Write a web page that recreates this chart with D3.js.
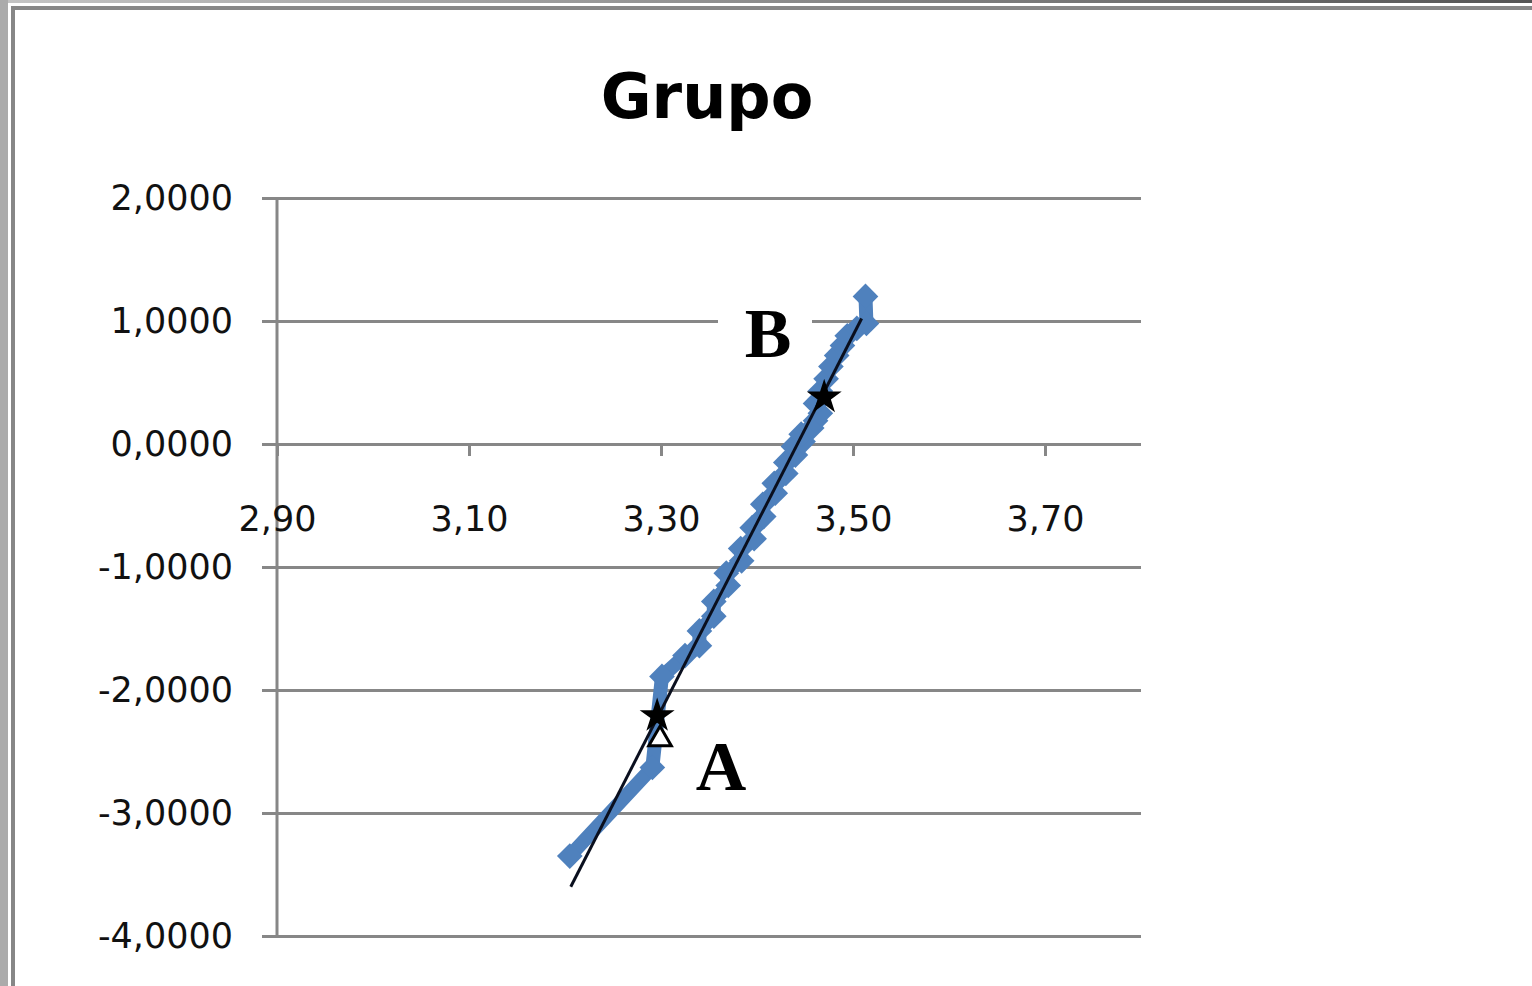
<!DOCTYPE html>
<html>
<head>
<meta charset="utf-8">
<script src="https://cdn.jsdelivr.net/npm/d3@7"></script>
<style>
  html, body { margin: 0; padding: 0; background: #fff; }
  svg { display: block; }
</style>
</head>
<body>
<svg id="chart" width="1532" height="986"></svg>
<script>
// Sample values (x) and their normal scores (y), sorted ascending
const sampleX = [3.205, 3.291, 3.301, 3.325, 3.340, 3.340, 3.355, 3.355, 3.370, 3.368,
                 3.384, 3.383, 3.397, 3.395, 3.407, 3.406, 3.419, 3.418, 3.430, 3.430,
                 3.440, 3.438, 3.448, 3.446, 3.457, 3.461, 3.466, 3.461, 3.466, 3.472,
                 3.477, 3.483, 3.489, 3.494, 3.504, 3.514, 3.513];
const normalY = [-3.35, -2.63, -1.89, -1.72, -1.64, -1.52, -1.40, -1.28, -1.15, -1.05,
                 -0.95, -0.85, -0.77, -0.68, -0.59, -0.49, -0.40, -0.32, -0.24, -0.15,
                 -0.09, -0.02, 0.02, 0.08, 0.13, 0.19, 0.25, 0.33, 0.43, 0.53,
                 0.63, 0.72, 0.80, 0.88, 0.94, 0.98, 1.20];

// Fitted straight line (two end points)
const trendX = [3.206, 3.509];
const trendY = [-3.60, 1.02];

// Highlighted points A and B
const markLabels = ["A", "B"];
const markX = [3.296, 3.470];
const markY = [-2.21, 0.38];
const hollowX = [3.299];
const hollowY = [-2.40];

// Axis ticks
const xTicks = [2.90, 3.10, 3.30, 3.50, 3.70];
const yTicks = [-4, -3, -2, -1, 0, 1, 2];

const svg = d3.select("#chart");
const W = 1532, H = 986;

// Window frame
svg.append("rect").attr("x", 0).attr("y", 0).attr("width", W).attr("height", H).attr("fill", "#fff");
const topGrad = svg.append("defs").append("linearGradient").attr("id", "topGrad");
topGrad.append("stop").attr("offset", "0%").attr("stop-color", "#c4c4c4");
topGrad.append("stop").attr("offset", "100%").attr("stop-color", "#555");
svg.append("rect").attr("x", 0).attr("y", 0).attr("width", W).attr("height", 3).attr("fill", "url(#topGrad)");
svg.append("rect").attr("x", 0).attr("y", 0).attr("width", 8).attr("height", H).attr("fill", "#ababab");
svg.append("rect").attr("x", 11).attr("y", 6).attr("width", W - 11).attr("height", 4).attr("fill", "#878787");
svg.append("rect").attr("x", 11).attr("y", 6).attr("width", 4).attr("height", H - 6).attr("fill", "#878787");

const locale = d3.formatLocale({decimal: ",", thousands: ".", grouping: [3], currency: ["", ""], minus: "-"});
const fmtY = locale.format(".4f");
const fmtX = locale.format(".2f");

const x = d3.scaleLinear().domain([2.9, 3.8]).range([277, 1141]);
const y = d3.scaleLinear().domain([-4, 2]).range([936, 198]);

const labelFont = "'DejaVu Sans', Verdana, sans-serif";
const gridColor = "#878787";

// Title
svg.append("text")
  .attr("x", 707).attr("y", 118)
  .attr("text-anchor", "middle")
  .attr("font-family", labelFont)
  .attr("font-weight", "bold")
  .attr("font-size", 62)
  .attr("fill", "#000")
  .text("Grupo");

// Y axis with horizontal gridlines
const gy = svg.append("g")
  .attr("transform", `translate(${x(2.9)},0)`)
  .call(d3.axisLeft(y).tickValues(yTicks).tickFormat(fmtY)
        .tickSize(-(x(3.8) - x(2.9))).tickPadding(44));
gy.select(".domain").remove();
gy.selectAll(".tick line").attr("x1", -15).attr("stroke", gridColor).attr("stroke-width", 3);
gy.selectAll(".tick text")
  .attr("font-family", labelFont).attr("font-size", 35).attr("fill", "#111");

// Vertical axis line
svg.append("line")
  .attr("x1", x(2.9)).attr("x2", x(2.9))
  .attr("y1", y(2)).attr("y2", y(-4))
  .attr("stroke", gridColor).attr("stroke-width", 3);

// X axis crossing at zero
const gx = svg.append("g")
  .attr("transform", `translate(0,${y(0)})`)
  .call(d3.axisBottom(x).tickValues(xTicks).tickFormat(fmtX).tickSize(12).tickSizeOuter(0));
gx.select(".domain").remove();
gx.selectAll(".tick line").attr("stroke", gridColor).attr("stroke-width", 3);
gx.selectAll(".tick text")
  .attr("y", 75).attr("dy", "0.35em")
  .attr("font-family", labelFont).attr("font-size", 35).attr("fill", "#111");

// Sample series: connecting line and diamond markers
const pts = sampleX.map((v, i) => [v, normalY[i]]);
svg.append("path")
  .datum(pts)
  .attr("d", d3.line().x(d => x(d[0])).y(d => y(d[1])))
  .attr("fill", "none")
  .attr("stroke", "#4f81bd")
  .attr("stroke-width", 14)
  .attr("stroke-linejoin", "round");

svg.append("g").selectAll("path")
  .data(pts)
  .join("path")
  .attr("transform", d => `translate(${x(d[0])},${y(d[1])}) rotate(45)`)
  .attr("d", d3.symbol().type(d3.symbolSquare).size(330))
  .attr("fill", "#4f81bd");

// Fitted line
svg.append("line")
  .attr("x1", x(trendX[0])).attr("y1", y(trendY[0]))
  .attr("x2", x(trendX[1])).attr("y2", y(trendY[1]))
  .attr("stroke", "#0a0f1e")
  .attr("stroke-width", 3);

// Hollow marker below A
svg.append("g").selectAll("path")
  .data(hollowX.map((v, i) => [v, hollowY[i]]))
  .join("path")
  .attr("transform", d => `translate(${x(d[0])},${y(d[1])})`)
  .attr("d", d3.symbol().type(d3.symbolTriangle).size(220))
  .attr("fill", "#fff")
  .attr("stroke", "#000")
  .attr("stroke-width", 3);

// Highlighted points A and B
svg.append("g").selectAll("path")
  .data(markX.map((v, i) => [v, markY[i]]))
  .join("path")
  .attr("transform", d => `translate(${x(d[0])},${y(d[1])})`)
  .attr("d", d3.symbol().type(d3.symbolStar).size(380))
  .attr("fill", "#000");

// Point labels
const labelPos = [[721, 790], [768, 357]];
labelPos.forEach((p, i) => {
  if (markLabels[i] === "B") {
    svg.append("rect")
      .attr("x", p[0] - 50).attr("y", p[1] - 62)
      .attr("width", 94).attr("height", 80)
      .attr("fill", "#fff");
  }
  svg.append("text")
    .attr("x", p[0]).attr("y", p[1])
    .attr("text-anchor", "middle")
    .attr("font-family", "'Liberation Serif', 'Times New Roman', serif")
    .attr("font-weight", "bold")
    .attr("font-size", 70)
    .attr("fill", "#000")
    .text(markLabels[i]);
});
</script>
</body>
</html>
